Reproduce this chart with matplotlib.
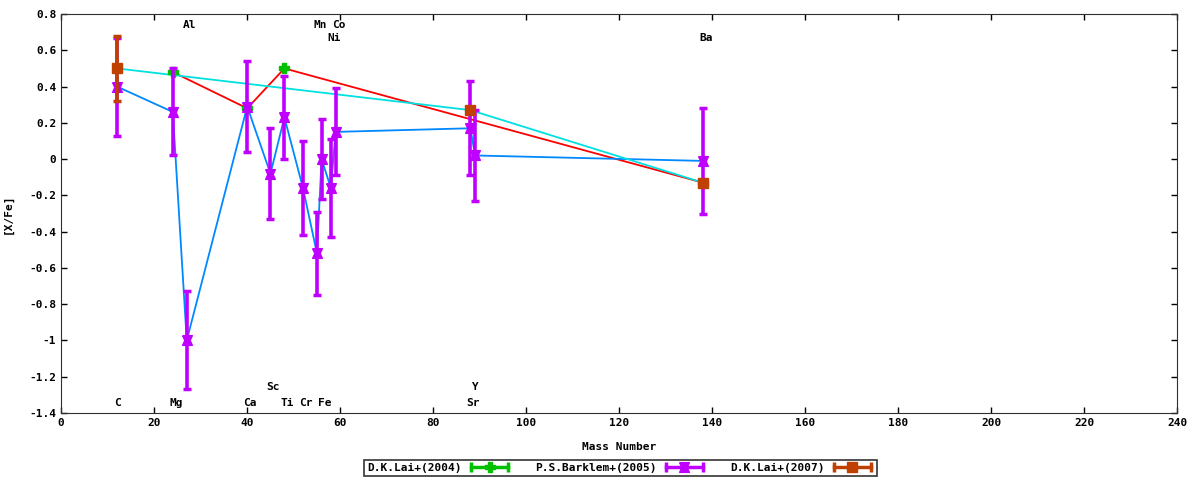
import numpy as np
import matplotlib
matplotlib.use('Agg')
import matplotlib.pyplot as plt
from matplotlib.ticker import FuncFormatter
from matplotlib.legend_handler import HandlerBase
from matplotlib.lines import Line2D

plt.rcParams['font.family'] = ['DejaVu Sans Mono', 'DejaVu Sans']
plt.rcParams['font.weight'] = 'bold'

# D.K.Lai+(2004)
lai04_mass = [24, 40, 48, 138]
lai04_val = [0.48, 0.28, 0.50, -0.13]

# P.S.Barklem+(2005)
bark_mass = [12, 24, 27, 40, 45, 48, 52, 55, 56, 58, 59, 88, 89, 138]
bark_val = [0.40, 0.26, -1.00, 0.29, -0.08, 0.23, -0.16, -0.52, 0.00, -0.16, 0.15, 0.17, 0.02, -0.01]
bark_err = [0.27, 0.24, 0.27, 0.25, 0.25, 0.23, 0.26, 0.23, 0.22, 0.27, 0.24, 0.26, 0.25, 0.29]

# D.K.Lai+(2007)
lai07_mass = [12, 88, 138]
lai07_val = [0.50, 0.27, -0.13]
lai07_err = [0.18, 0.0, 0.0]

# element labels: name, mass, side (b=bottom, t=top), row
elem_names = ['C', 'Mg', 'Ca', 'Sc', 'Ti', 'Cr', 'Fe', 'Sr', 'Y', 'Al', 'Mn', 'Co', 'Ni', 'Ba']
elem_mass = [12, 24, 40, 45, 48, 52, 56, 88, 89, 27, 55, 59, 58, 138]
elem_side = ['b', 'b', 'b', 'b', 'b', 'b', 'b', 'b', 'b', 't', 't', 't', 't', 't']
elem_row = [0, 0, 0, 1, 0, 0, 0, 0, 1, 0, 0, 0, 1, 1]

green = '#00c000'
purple = '#c000ff'
brown = '#c04000'
red = '#ff0000'
blue = '#0088ff'
cyan = '#00e0e0'

bowtie = [(-1, 1), (1, 1), (0.55, 0), (1, -1), (-1, -1), (-0.55, 0), (-1, 1)]


class HBar(HandlerBase):
    # gnuplot style key sample: horizontal bar with caps and a point in the middle
    def __init__(self, color, marker, ms):
        super().__init__()
        self.color = color
        self.marker = marker
        self.ms = ms

    def create_artists(self, legend, orig_handle, xdescent, ydescent, width,
                       height, fontsize, trans):
        y = height / 2 - ydescent
        x0 = -xdescent + 2
        x1 = -xdescent + width - 2
        line = Line2D([x0, x1], [y, y], color=self.color, lw=2.5, transform=trans)
        caps = Line2D([x0, x1], [y, y], ls='none', marker='|', ms=7, mew=2.5,
                      color=self.color, transform=trans)
        mk = Line2D([(x0 + x1) / 2], [y], ls='none', marker=self.marker,
                    ms=self.ms, color=self.color, transform=trans)
        return [line, caps, mk]


fig = plt.figure(figsize=(12, 4.8), dpi=100)
ax = fig.add_axes([0.051, 0.1396, 0.930, 0.8312])

# connecting lines
ax.plot(lai04_mass, lai04_val, color=red, lw=1.3, zorder=2)
ax.plot(bark_mass, bark_val, color=blue, lw=1.3, zorder=2)
ax.plot(lai07_mass, lai07_val, color=cyan, lw=1.3, zorder=2)

# error bars
ax.errorbar(lai04_mass, lai04_val, yerr=0, fmt='P', color=green, ms=7,
            elinewidth=2.5, capsize=3, capthick=2.2, zorder=3)
ax.errorbar(bark_mass, bark_val, yerr=bark_err, fmt='none', ecolor=purple,
            elinewidth=2.6, capsize=3, capthick=2.5, zorder=4)
ax.plot(bark_mass, bark_val, ls='none', marker=bowtie, color=purple, ms=7, zorder=4)
ax.errorbar(lai07_mass, lai07_val, yerr=lai07_err, fmt='s', color=brown, ms=7.2,
            elinewidth=2.6, capsize=3, capthick=2.5, zorder=5)

# element labels
for name, m, side, row in zip(elem_names, elem_mass, elem_side, elem_row):
    if side == 'b':
        y = -1.344 + 0.088 * row
    else:
        y = 0.739 - 0.071 * row
    ax.text(m + 0.15 + 0.5 * (len(name) - 1), y, name, ha='center', va='center',
            fontsize=8, fontweight='bold')

ax.set_xlim(0, 240)
ax.set_ylim(-1.4, 0.8)
ax.set_xticks(np.arange(0, 241, 20))
ax.set_yticks(np.arange(-1.4, 0.81, 0.2))
ax.yaxis.set_major_formatter(FuncFormatter(lambda v, p: '%g' % (round(v, 2) + 0.0)))
ax.tick_params(direction='in', top=True, right=True, length=4, labelsize=8, width=1)
for s in ax.spines.values():
    s.set_color('#303030')
ax.set_xlabel('Mass Number', fontsize=8, fontweight='bold', labelpad=10)
ax.set_ylabel('[X/Fe]', fontsize=8, fontweight='bold', labelpad=12)

# legend
k1 = Line2D([], [])
k2 = Line2D([], [])
k3 = Line2D([], [])
leg = fig.legend([k1, k2, k3],
                 ['D.K.Lai+(2004)', 'P.S.Barklem+(2005)', 'D.K.Lai+(2007)'],
                 handler_map={k1: HBar(green, 'P', 7), k2: HBar(purple, bowtie, 7),
                              k3: HBar(brown, 's', 7)},
                 loc='center', bbox_to_anchor=(0.517, 0.025), ncol=3,
                 markerfirst=False, fontsize=8, frameon=True, fancybox=False,
                 handlelength=3.8, columnspacing=2.2, handletextpad=0.6,
                 borderpad=0.3, borderaxespad=0)
leg.get_frame().set_edgecolor('black')
leg.get_frame().set_linewidth(1.2)

fig.savefig('out.png', dpi=100)
